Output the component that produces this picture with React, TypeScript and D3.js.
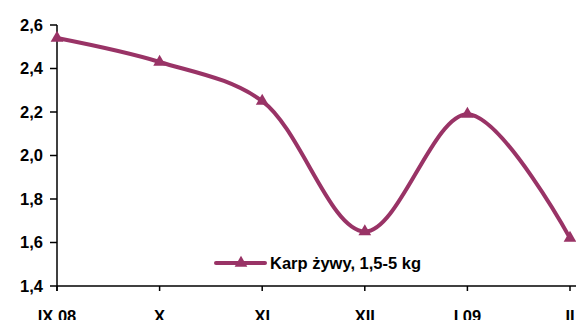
import { useEffect, useRef } from "react";
import * as d3 from "d3";

const MONTHS: string[] = ["IX 08", "X", "XI", "XII", "I 09", "II"];
const PRICES: number[] = [2.54, 2.43, 2.25, 1.65, 2.19, 1.62];
const Y_TICKS: number[] = [1.4, 1.6, 1.8, 2.0, 2.2, 2.4, 2.6];
const SERIES_NAME = "Karp żywy, 1,5-5 kg";

const WIDTH = 576;
const HEIGHT = 320;
const LINE_COLOR = "#993366";
const FONT = "'Liberation Sans', Arial, sans-serif";
const FONT_SIZE = 16.5;

function renderChart(svgEl: SVGSVGElement | null) {
  if (!svgEl) return;
  const svg = d3.select(svgEl);
  svg.selectAll("*").remove();

  const x = d3
    .scalePoint<string>()
    .domain(MONTHS)
    .range([57, 570]);
  const y = d3.scaleLinear().domain([1.4, 2.6]).range([286, 25]);

  // y axis
  const yAxis = svg.append("g").attr("transform", "translate(57,0)");
  yAxis
    .append("line")
    .attr("y1", y(2.6))
    .attr("y2", y(1.4) + 5)
    .attr("stroke", "#000")
    .attr("stroke-width", 1.5);
  Y_TICKS.forEach((t) => {
    yAxis
      .append("line")
      .attr("x1", -7)
      .attr("x2", 0)
      .attr("y1", y(t))
      .attr("y2", y(t))
      .attr("stroke", "#000")
      .attr("stroke-width", 1.5);
    yAxis
      .append("text")
      .attr("x", -14)
      .attr("y", y(t))
      .attr("dy", "0.36em")
      .attr("text-anchor", "end")
      .attr("font-size", FONT_SIZE)
      .attr("font-weight", "bold")
      .style("font-family", FONT)
      .text(t.toFixed(1).replace(".", ","));
  });

  // x axis
  const xAxis = svg.append("g").attr("transform", `translate(0,${y(1.4)})`);
  xAxis
    .append("line")
    .attr("x1", 57)
    .attr("x2", 576)
    .attr("stroke", "#000")
    .attr("stroke-width", 1.5);
  MONTHS.forEach((m) => {
    xAxis
      .append("line")
      .attr("x1", x(m)!)
      .attr("x2", x(m)!)
      .attr("y1", 0)
      .attr("y2", 5)
      .attr("stroke", "#000")
      .attr("stroke-width", 1.5);
    xAxis
      .append("text")
      .attr("x", x(m)!)
      .attr("y", 35.5)
      .attr("text-anchor", "middle")
      .attr("font-size", FONT_SIZE)
      .attr("font-weight", "bold")
      .style("font-family", FONT)
      .text(m);
  });

  // smoothed line
  const line = d3
    .line<number>()
    .x((_, i) => x(MONTHS[i])!)
    .y((d) => y(d))
    .curve(d3.curveCatmullRom.alpha(0.5));
  svg
    .append("path")
    .attr("d", line(PRICES)!)
    .attr("fill", "none")
    .attr("stroke", LINE_COLOR)
    .attr("stroke-width", 4)
    .attr("stroke-linejoin", "round");

  const tri = d3.symbol().type(d3.symbolTriangle).size(70);
  svg
    .selectAll("path.marker")
    .data(PRICES)
    .join("path")
    .attr("class", "marker")
    .attr("d", tri()!)
    .attr("transform", (d, i) => `translate(${x(MONTHS[i])},${y(d)})`)
    .attr("fill", LINE_COLOR);

  // legend
  const legend = svg.append("g").attr("transform", "translate(216,263)");
  legend
    .append("line")
    .attr("x1", 0)
    .attr("x2", 49)
    .attr("stroke", LINE_COLOR)
    .attr("stroke-width", 4)
    .attr("stroke-linecap", "round");
  legend.append("path").attr("d", tri()!).attr("transform", "translate(25,0)").attr("fill", LINE_COLOR);
  legend
    .append("text")
    .attr("x", 54)
    .attr("dy", "0.36em")
    .attr("font-size", FONT_SIZE)
    .attr("font-weight", "bold")
    .style("font-family", FONT)
    .text(SERIES_NAME);
}

export default function App() {
  const svgRef = useRef<SVGSVGElement>(null);

  useEffect(() => {
    renderChart(svgRef.current);
  }, []);

  return (
    <svg
      ref={svgRef}
      width={WIDTH}
      height={HEIGHT}
      style={{ position: "absolute", left: 0, top: 0, background: "#fff" }}
    />
  );
}
